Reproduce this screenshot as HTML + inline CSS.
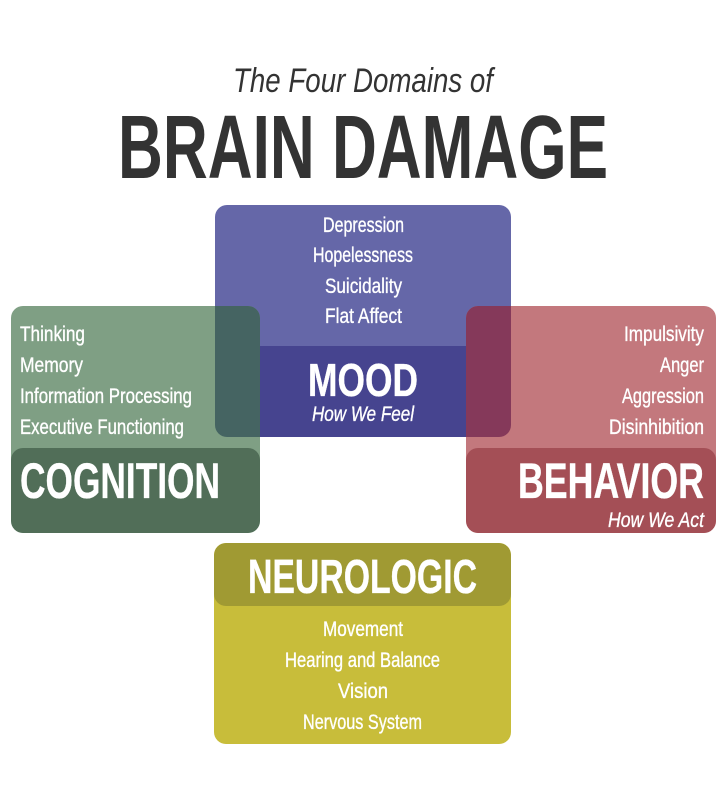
<!DOCTYPE html>
<html><head><meta charset="utf-8"><style>
html,body{margin:0;padding:0;background:#fff;}
svg{display:block;}
text{font-family:"Liberation Sans Narrow","Liberation Sans",sans-serif;}
</style></head><body>
<svg width="725" height="788" viewBox="0 0 725 788" xmlns="http://www.w3.org/2000/svg">
<defs>
<clipPath id="cc"><rect x="11" y="306" width="249" height="227" rx="12"/></clipPath>
<clipPath id="bc"><rect x="466" y="306" width="250" height="227" rx="12"/></clipPath>
<clipPath id="mc"><rect x="215" y="205" width="296" height="232" rx="12"/></clipPath>
<clipPath id="nc"><rect x="214" y="543" width="297" height="201" rx="12"/></clipPath>
</defs>
<rect width="725" height="788" fill="#fff"/>
<text x="233" y="92" font-size="34" font-style="italic" fill="#333" textLength="260" lengthAdjust="spacingAndGlyphs">The Four Domains of</text>
<text x="118" y="178" font-size="90" font-weight="bold" fill="#333" textLength="490" lengthAdjust="spacingAndGlyphs">BRAIN DAMAGE</text>

<g clip-path="url(#mc)">
<rect x="215" y="205" width="296" height="232" fill="#6567a8"/>
<rect x="215" y="346" width="296" height="91" rx="12" fill="#46448f"/>
</g>
<g clip-path="url(#cc)">
<rect x="11" y="306" width="249" height="227" fill="#7f9f84"/>
<rect x="11" y="448" width="249" height="85" rx="12" fill="#516e58"/>
</g>
<g clip-path="url(#cc)"><g clip-path="url(#mc)"><rect x="215" y="306" width="45" height="131" fill="#456462"/></g></g>
<g clip-path="url(#bc)">
<rect x="466" y="306" width="250" height="227" fill="#c3787d"/>
<rect x="466" y="448" width="250" height="85" rx="12" fill="#a44f56"/>
</g>
<g clip-path="url(#bc)"><g clip-path="url(#mc)"><rect x="466" y="306" width="45" height="131" fill="#85395a"/></g></g>
<g clip-path="url(#nc)">
<rect x="214" y="543" width="297" height="201" fill="#c8bd3a"/>
<rect x="214" y="543" width="297" height="63" rx="12" fill="#a09a33"/>
</g>

<g fill="#fff" font-size="21" stroke="#fff" stroke-width="0.35">
<text x="323" y="232" textLength="81" lengthAdjust="spacingAndGlyphs">Depression</text>
<text x="313" y="262" textLength="100" lengthAdjust="spacingAndGlyphs">Hopelessness</text>
<text x="325" y="293" textLength="77" lengthAdjust="spacingAndGlyphs">Suicidality</text>
<text x="325" y="323" textLength="77" lengthAdjust="spacingAndGlyphs">Flat Affect</text>
<text x="308" y="396" font-size="46" font-weight="bold" textLength="110" lengthAdjust="spacingAndGlyphs">MOOD</text>
<text x="312" y="421" font-style="italic" textLength="102" lengthAdjust="spacingAndGlyphs">How We Feel</text>

<text x="20" y="341" textLength="65" lengthAdjust="spacingAndGlyphs">Thinking</text>
<text x="20" y="372" textLength="63" lengthAdjust="spacingAndGlyphs">Memory</text>
<text x="20" y="403" textLength="172" lengthAdjust="spacingAndGlyphs">Information Processing</text>
<text x="20" y="434" textLength="164" lengthAdjust="spacingAndGlyphs">Executive Functioning</text>
<text x="20" y="498" font-size="50" font-weight="bold" textLength="200" lengthAdjust="spacingAndGlyphs">COGNITION</text>

<text x="624" y="341" textLength="80" lengthAdjust="spacingAndGlyphs">Impulsivity</text>
<text x="660" y="372" textLength="44" lengthAdjust="spacingAndGlyphs">Anger</text>
<text x="622" y="403" textLength="82" lengthAdjust="spacingAndGlyphs">Aggression</text>
<text x="609" y="434" textLength="95" lengthAdjust="spacingAndGlyphs">Disinhibition</text>
<text x="518" y="498" font-size="50" font-weight="bold" textLength="186" lengthAdjust="spacingAndGlyphs">BEHAVIOR</text>
<text x="608" y="527" font-style="italic" textLength="96" lengthAdjust="spacingAndGlyphs">How We Act</text>

<text x="248" y="593" font-size="48" font-weight="bold" textLength="229" lengthAdjust="spacingAndGlyphs">NEUROLOGIC</text>
<text x="323" y="636" textLength="80" lengthAdjust="spacingAndGlyphs">Movement</text>
<text x="285" y="667" textLength="155" lengthAdjust="spacingAndGlyphs">Hearing and Balance</text>
<text x="338" y="698" textLength="50" lengthAdjust="spacingAndGlyphs">Vision</text>
<text x="303" y="729" textLength="119" lengthAdjust="spacingAndGlyphs">Nervous System</text>
</g>
</svg>
</body></html>
